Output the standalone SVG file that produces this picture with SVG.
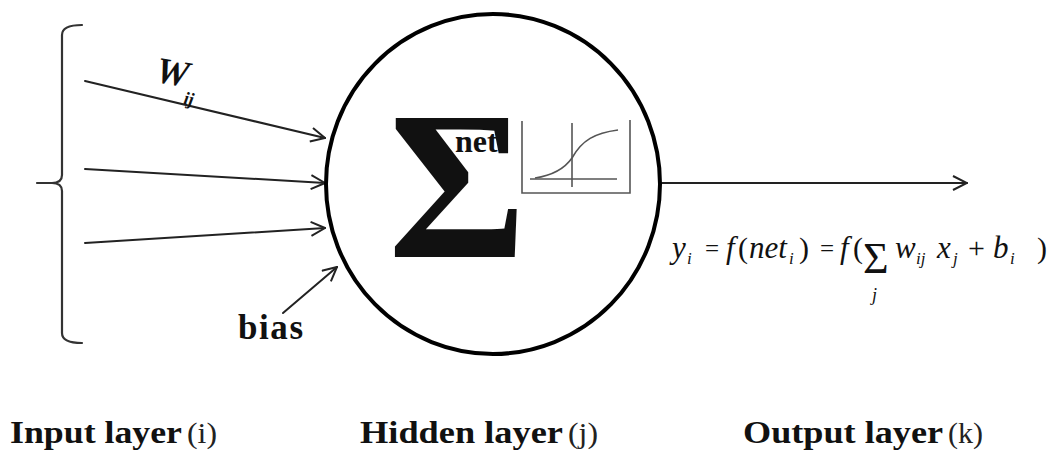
<svg xmlns="http://www.w3.org/2000/svg" width="1059" height="454" viewBox="0 0 1059 454">
<style>
.ln{fill:none;stroke:#222;stroke-width:2;stroke-linecap:round}
.brk{fill:none;stroke:#333;stroke-width:2.2;stroke-linecap:round;stroke-linejoin:round}
.sg{fill:none;stroke:#555;stroke-width:1.6}
.b{font-family:"Liberation Serif","DejaVu Serif",serif;font-weight:bold;fill:#111}
.lab{font-family:"Liberation Serif","DejaVu Serif",serif;font-weight:bold;font-size:32px;fill:#111}
.par{font-family:"Liberation Serif","DejaVu Serif",serif;font-size:30px;fill:#222}
.f{font-family:"Liberation Serif","DejaVu Serif",serif;font-style:italic;font-size:31px;fill:#111}
.fs{font-family:"Liberation Serif","DejaVu Serif",serif;font-style:italic;font-size:17px;fill:#111}
.fn{font-family:"Liberation Serif","DejaVu Serif",serif;font-size:30px;fill:#111}
.eq{font-family:"Liberation Serif","DejaVu Serif",serif;font-size:25px;fill:#111}
</style>
<defs>
<marker id="ah" viewBox="0 0 16 16" refX="15" refY="8" markerWidth="16" markerHeight="16" markerUnits="userSpaceOnUse" orient="auto">
<path d="M1,1 L15,8 L1,15" fill="none" stroke="#222" stroke-width="2"/>
</marker>
</defs>
<rect width="1059" height="454" fill="#fff"/>
<g id="input-layer">
<path class="brk" d="M82,25 Q62,25 62,35 L62,175 Q62,183 52,183 L37,183 M52,183 Q62,183 62,191 L62,333 Q62,343 82,343"/>
</g>
<g id="connectors">
<line class="ln" x1="85" y1="81" x2="325" y2="138" marker-end="url(#ah)"/>
<line class="ln" x1="85" y1="169" x2="325" y2="183" marker-end="url(#ah)"/>
<line class="ln" x1="85" y1="243" x2="325" y2="228" marker-end="url(#ah)"/>
<line class="ln" x1="283" y1="313" x2="337" y2="267" marker-end="url(#ah)"/>
<line class="ln" x1="662" y1="183" x2="967" y2="183" marker-end="url(#ah)"/>
</g>
<g id="weight-label">
<text class="b" x="156" y="84" font-size="37" font-style="italic" transform="rotate(10 170 72)">W</text>
<text class="b" x="184" y="105" font-size="18" font-style="italic" transform="rotate(10 190 98)">ij</text>
</g>
<g id="bias-label">
<text class="b" x="238" y="339" font-size="35" textLength="65" lengthAdjust="spacing">bias</text>
</g>
<g id="hidden-neuron">
<ellipse cx="493" cy="184" rx="167" ry="170" fill="none" stroke="#000" stroke-width="4"/>
<text class="b" x="388" y="257" font-size="212">Σ</text>
<text class="b" x="455" y="152" font-size="32">net</text>
<path class="sg" d="M522,121 L522,193 L630,193 L630,120"/>
<line class="sg" x1="572" y1="123" x2="572" y2="187"/>
<line class="sg" x1="530" y1="179" x2="617" y2="179"/>
<path class="sg" d="M535,178 C555,175 565,168 572,158 C582,140 595,133 618,130" stroke-width="1.8"/>
</g>
<g id="output-formula">
<text class="f" x="672" y="258">y</text><text class="fs" x="687" y="264">i</text>
<text class="eq" x="705" y="257">=</text>
<text class="f" x="726" y="258">f</text><text class="fn" x="738" y="258">(</text>
<text class="f" x="749" y="258">net</text><text class="fs" x="789" y="264">i</text><text class="fn" x="799" y="258">)</text>
<text class="eq" x="820" y="257">=</text>
<text class="f" x="840" y="258">f</text><text class="fn" x="853" y="258">(</text>
<text class="fn" x="863" y="273" style="font-size:44px">Σ</text>
<text class="fs" x="872" y="301" style="font-size:18px">j</text>
<text class="f" x="895" y="258">w</text><text class="fs" x="916" y="264">ij</text>
<text class="f" x="937" y="258">x</text><text class="fs" x="953" y="264">j</text>
<text class="fn" x="968" y="258">+</text>
<text class="f" x="993" y="258">b</text><text class="fs" x="1010" y="264">i</text>
<text class="fn" x="1037" y="258">)</text>
</g>
<g id="layer-labels">
<text class="lab" x="10" y="443" textLength="172" lengthAdjust="spacingAndGlyphs">Input layer</text>
<text class="par" x="187" y="443" textLength="30" lengthAdjust="spacingAndGlyphs">(i)</text>
<text class="lab" x="360" y="443" textLength="203" lengthAdjust="spacingAndGlyphs">Hidden layer</text>
<text class="par" x="568" y="443" textLength="30" lengthAdjust="spacingAndGlyphs">(j)</text>
<text class="lab" x="743" y="443" textLength="200" lengthAdjust="spacingAndGlyphs">Output layer</text>
<text class="par" x="948" y="443" textLength="35" lengthAdjust="spacingAndGlyphs">(k)</text>
</g>
</svg>
